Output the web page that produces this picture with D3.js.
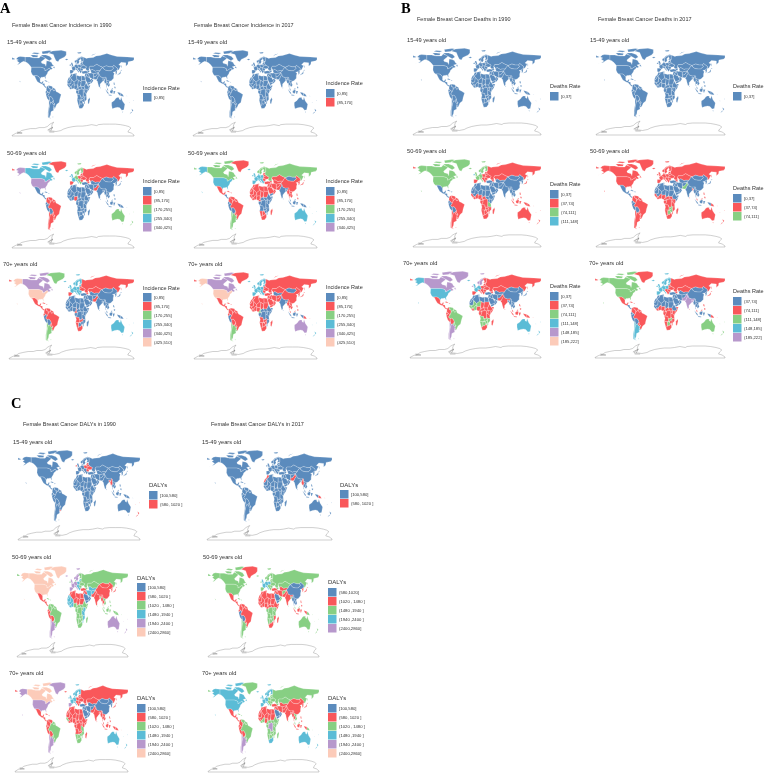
<!DOCTYPE html>
<html>
<head>
<meta charset="utf-8">
<script src="https://cdn.jsdelivr.net/npm/d3@7"></script>
<style>
  html, body { margin: 0; padding: 0; background: #fff; }
  svg { filter: blur(0.25px); }
  text { font-family: "Liberation Sans", Arial, sans-serif; fill: #333; }
  .letter { font-family: "Liberation Serif", serif; font-weight: bold; font-size: 14.5px; fill: #000; }
</style>
</head>
<body>
<svg id="chart" width="765" height="773"></svg>
<script>
// rough country outlines, lon,lat pairs, "|" starts another part
const regionShapes = {
  alaska: "-168,66 -162,70 -156,71 -141,70 -141,60 -135,58 -130,55 -134,58 -146,61 -152,59 -160,55 -165,54 -158,58 -162,60 -166,62 -161,64|-178,52 -172,52.5 -170,53 -175,52",
  canada: "-141,70 -128,70 -115,68 -100,68 -95,72 -85,69 -82,67 -94,60 -92,57 -82,55 -80,51 -79,55 -78,62 -70,61 -64,59 -60,54 -56,52 -66,50 -60,46 -66,44 -67,45 -70,47 -75,45 -79,43 -83,42 -83,46 -89,48 -95,49 -123,49 -130,55 -135,58 -141,60|-125,74 -115,74 -103,73 -105,69.5 -118,69.5|-95,74 -80,74 -68,71 -62,66 -70,62.5 -78,66 -88,70|-92,81 -70,83 -62,82 -75,77 -90,76|-122,77 -105,75.5 -98,78 -115,79|-59,48 -53,47 -56,51",
  usa: "-123,49 -95,49 -89,48 -83,46 -83,42 -79,43 -75,45 -70,47 -67,45 -70,42 -74,40 -76,36 -81,31 -80,25 -82,27 -84,30 -90,29 -94,29 -97,26 -101,30 -106,32 -117,32 -121,35 -124,40|-158,22 -155,20 -155.5,18.5 -157,20",
  greenland: "-73,78 -60,82 -35,83.5 -20,81 -20,74 -25,70 -40,65 -44,60 -50,62 -54,68 -58,75",
  mexico: "-117,32 -106,32 -101,30 -97,26 -97,20 -94,18 -91,19 -90,21 -87,21 -89,16 -92,15 -96,16 -105,20 -109,25 -113,31",
  centam: "-92,15 -89,16 -84,16 -83,11 -78,9 -80,7 -85,10 -88,13",
  cuba: "-85,22 -80,23 -74,20 -78,20|-74,20 -69,19 -71,18",
  colombia: "-78,9 -75,11 -72,12 -72,7 -67,6 -67,1 -70,-4 -75,0 -79,2",
  venezuela: "-72,12 -62,10.5 -60,8 -61,5 -64,4 -67,1 -67,6 -72,7",
  guianas: "-60,8 -52,5 -54,2 -58,1.5 -60,5 -61,5",
  ecuador: "-79,2 -75,0 -76,-3 -80,-4 -81,-1",
  peru: "-80,-4 -76,-3 -75,0 -70,-4 -74,-8 -70,-11 -69,-17 -71,-18 -76,-14 -79,-8",
  bolivia: "-70,-11 -65,-10 -60,-14 -58,-18 -62,-22 -67,-23 -69,-18 -69,-17",
  brazil: "-70,-4 -67,1 -64,4 -60,5 -58,1.5 -54,2 -52,5 -50,0 -44,-2 -35,-6 -39,-15 -41,-22 -48,-26 -53,-34 -57,-30 -54,-25 -58,-22 -58,-18 -60,-14 -65,-10 -70,-11 -74,-8",
  paraguay: "-62,-22 -58,-18 -58,-22 -54,-25 -58,-27",
  uruguay: "-57,-30 -53,-34 -58,-34.5",
  argentina: "-67,-23 -62,-22 -58,-27 -54,-25 -57,-30 -58,-34.5 -57,-38 -65,-41 -66,-47 -69,-52 -65,-55 -71,-52 -72,-45 -71,-35 -69,-28|-61,-51 -58,-51 -59,-52.5",
  chile: "-69,-18 -67,-23 -69,-28 -71,-35 -72,-45 -71,-52 -65,-55 -74,-52 -74,-42 -71,-30 -71,-18",
  iceland: "-24,65 -18,66.5 -14,65 -19,63.5",
  uk: "-5,50 1,51 0,54 -2,58 -6,58 -5,54 -3,53",
  ireland: "-10,52 -6,52 -6,55 -10,54",
  iberia: "-9,37 -6,36 -2,37 0,39 3,42 -2,43.5 -9,43.5",
  france: "-2,43.5 3,42 7,44 7,46 8,49 2,51 -4,48.5",
  germany: "2,51 8,49 7,46 13,46.5 17,48 15,51 14,54 8,54.5 4,52",
  italy: "7,44 7,46 13,46.5 13,44 18,40 16,38 15,40 10,44",
  norway: "5,59 8,58 11,59 12,64 20,69 30,70 25,71 15,68 10,64 5,62|12,79 25,80 22,77 15,77",
  sweden: "11,59 13,55.5 16,56 19,60 17,62 22,66 20,69 12,64",
  finland: "22,60 30,61 30,70 20,69 22,66 25,64",
  denmark: "8,54.5 11,54.5 11,57 8,57",
  poland: "14,54 23,54.5 24,51 24,50 22,48 17,48 15,51",
  baltic: "21,55 23,54.5 28,56 28,59 24,59",
  belarus: "23,54.5 28,56 32,53 24,51",
  ukraine: "24,50 24,51 32,53 40,50 38,47 33,46 30,46 22,48",
  romania: "22,48 30,46 28.5,42 23,42 21,45",
  balkans: "13,46.5 17,48 22,48 21,45 23,42 28.5,42 26,41 24,38 22,37 19,41 14,45",
  turkey: "26,41 30,41 36,42 42,41 44,40 44,37 36,36.5 30,36 27,37",
  russia: "28,59 30,61 30,70 40,67 44,68 60,69 68,72 80,73 100,77 113,74 130,71 160,70 180,69 180,65 177,62 163,60 162,55 156,51 156,58 142,59 135,54 141,52 135,44 131,43 131,47 120,53 117,50 108,50 98,52 88,49 80,51 70,55 61,51 50,51 47,47 48,42 40,43 37,46 38,47 40,50 32,53 28,56|-180,69 -170,66 -175,65 -180,65|142,54 144,50 143,47 142,50|52,71 58,75 68,77 56,73",
  caucasus: "40,43 48,42 49,40 45,39 42,41",
  kazakhstan: "47,47 50,51 61,51 70,55 80,51 87,49 82,45 80,42 70,42 66,41 56,45 52,42 50,46",
  centasia: "52,42 56,45 66,41 70,42 80,42 74,38 67,37 61,36 54,37.5",
  mongolia: "88,49 98,52 108,50 117,50 120,47 112,42 105,42 96,43 90,46",
  china: "80,42 82,45 87,49 90,46 96,43 105,42 112,42 120,47 117,50 120,53 131,47 131,43 128,42 124,40 118,39 122,37 120,32 120,27 113,22 108,21 102,22 98,24 98,28 88,28 80,30 75,37 74,38",
  koreas: "124,40 128,42 130,42 129,36 126,34 126,38",
  japan: "130,32 132,34 137,35 140,36 141,40 140,41 137,37 132,35|140,43 145,44 143,42",
  iran: "44,39 49,37 54,37.5 61,36 61,30 62,25 57,25.5 51,28 48,30 46,34 44,37",
  iraq: "44,37 46,34 48,30 44,29 39,32 41,35",
  syria: "36,36.5 44,37 41,35 39,32 37,29 34.5,31",
  saudi: "35,28 37,29 39,32 44,29 48,29 51,25 55,22 52,19 44,17 42,17 39,21",
  yemen: "42,17 44,17 52,19 52,16 45,13 43,13",
  oman: "51,25 56,26 60,22 55,17 52,16 52,19 55,22",
  afghan: "61,36 67,37 74,38 71,34 66,30 61,30",
  pakistan: "61,30 66,30 71,34 74,38 77,33 74,30 71,25 67,24.5 62,25",
  india: "74,38 78,35 80,30 88,28 96,29 94,24 88,26 89,22 85,19 80,15 80,10 77,8 74,15 72,21 69,23 71,25 74,30 77,33",
  bangladesh: "88,26 92,25 92,21 89,22",
  srilanka: "80,9 82,7 80.5,6",
  myanmar: "94,24 96,29 98,28 98,24 100,20 98,16 98,11 96,17 94,16 92,21",
  thailand: "100,20 102,18 105,15 102,12 99,12 100,7 98,9 98,16",
  indochina: "98,24 102,22 108,21 106,18 109,13 105,9 102,12 105,15 102,18 100,20",
  malaysia: "100,7 103,5 104,1.5 101,3|110,1 118,6 116,7",
  indonesia: "95,5 104,-2 106,-6 101,-3|105,-6 114,-7 114,-8.5 106,-8|109,1 117,4 118,1 116,-4 110,-3|119,1 125,1 122,-5 120,-5|131,-1 141,-3 141,-9 138,-8 133,-4",
  png: "141,-3 147,-6 150,-10 141,-9|157,-8 161,-10 158,-9",
  philippines: "120,18 122,18 124,13 120,14|122,10 126,9 125,6 122,7",
  australia: "114,-22 122,-18 126,-14 130,-12 136,-12 136,-15 140,-17 142,-11 146,-19 153,-26 150,-37 144,-38 138,-33 132,-32 124,-33 116,-35 114,-28|145,-41 148,-41 147,-43",
  nz: "173,-35 178,-38 175,-41|172,-41 174,-42 167,-46|177,-17 179,-18 178,-19|165,-21 167,-22 166,-22.5",
  morocco: "-13,28 -9,30 -6,35.5 -2,35 -1,32 -8,28",
  wsahara: "-17,21 -13,21 -8,27.7 -8,28 -13,28",
  algeria: "-8,28 -1,32 -2,35 8,37 9,33 10,30 12,24 3,19 -5,25",
  tunisia: "8,37 11,37 10,33 9,33",
  libya: "10,33 15,32 20,31 25,32 25,22 24,19.5 16,23 12,24 10,30",
  egypt: "25,32 34,31 37,22 25,22",
  sudan: "25,22 37,22 38,18 36,14 33,10 24,10 23,15 24,19.5",
  mauritania: "-17,21 -13,21 -8,27.7 -5,25 -6,16 -12,15 -16,16",
  mali: "-5,25 3,19 4,15 0,15 -5,10 -8,10 -12,13 -12,15 -6,16",
  niger: "3,19 12,24 16,23 14,13 8,13 3,12 4,15",
  chad: "16,23 24,19.5 23,15 22,11 15,8 14,13",
  nigeria: "3,12 8,13 14,13 13,7 9,4 5,5 3,6.5",
  senegal: "-16,16 -12,15 -12,13 -8,10 -8,7.5 -13,9 -17,13",
  ivory: "-8,10 -5,10 -3,5 -8,4.5 -13,9 -8,7.5",
  ghana: "-5,10 0,15 4,15 3,12 3,6.5 -3,5",
  cameroon: "9,4 13,7 14,13 15,8 16,2 10,2",
  car: "15,8 22,11 27,5 18,4 16,2",
  ssudan: "24,10 33,10 35,5 30,4 27,5 22,11",
  ethiopia: "33,10 36,14 38,18 43,12 48,8 42,4 35,5",
  somalia: "43,12 51,12 47,4 41,-2 42,4 48,8",
  kenya: "35,5 42,4 41,-2 39,-5 34,-1",
  uganda: "30,4 35,5 34,-1 30,-1",
  tanzania: "30,-1 34,-1 39,-5 40,-11 34,-11 30,-8",
  drc: "18,4 27,5 30,4 30,-1 30,-8 30,-12 24,-11 22,-11 22,-7 13,-6 16,-2",
  gabon: "9,1 10,2 16,2 18,4 16,-2 13,-6 9,-2",
  angola: "12,-6 13,-6 22,-7 22,-11 24,-11 24,-17 12,-17 14,-11",
  zambia: "24,-11 30,-12 30,-8 34,-11 33,-14 28,-16 24,-17",
  mozambique: "34,-11 40,-11 40,-16 35,-20 35,-24 32,-26 33,-20 33,-14",
  zimbabwe: "28,-16 33,-14 33,-20 29,-22 26,-18",
  botswana: "24,-17 26,-18 29,-22 25,-26 20,-25 20,-18",
  namibia: "12,-17 24,-17 20,-18 20,-28 16,-28",
  safrica: "16,-28 20,-28 20,-25 25,-26 29,-22 32,-26 32,-29 27,-34 19,-34.5",
  madagascar: "49,-12 50,-16 47,-25 44,-24 44,-17"
};

const antarctica = "-180,-89 -170,-85 -158,-82 -152,-79 -140,-77 -125,-75 -110,-75 -100,-73 -85,-73 -76,-71 -68,-66 -57,-62 -61,-66 -63,-70 -61,-74 -68,-76 -72,-80 -60,-80 -50,-81 -36,-79 -28,-76 -15,-73 0,-71 12,-70 28,-70 40,-69 55,-67 70,-69 75,-67 90,-66 108,-66 125,-66 140,-67 155,-69 165,-71 171,-74 165,-78 162,-82 172,-84 180,-88 180,-90 -180,-90";
const antarcticaInner = "-165,-85 -150,-84 -165,-82|-75,-78 -60,-72 -66,-80|-70,-82 -55,-82";

const incidenceBins = ["[0,85]", "(85,170]", "(170,255]", "(255,340]", "(340,425]", "(425,510]"];
const deathBins = ["[0,37]", "(37,74]", "(74,111]", "(111,148]", "(148,185]", "(185,222]"];
const dalyBins = ["[100,580]", "(580, 1020 ]", "(1020 , 1480 ]", "(1480 ,1940 ]", "(1940 ,2400 ]", "(2400,2860]"];
const dalyBins2017 = ["(580,1020]", "(1020 , 1480 ]", "(1480 ,1940 ]", "(1940 ,2400 ]", "(2400,2860]"];

// class of each region per panel: index = colour class, "*" = everything not listed
const incYoung1990 = ["*"];
const incYoung2017 = ["*"];
const incMid1990 = ["*",
  "greenland brazil colombia venezuela guianas paraguay uruguay argentina chile russia belarus ukraine baltic poland romania kazakhstan caucasus nigeria pakistan iberia",
  "norway sweden finland denmark germany balkans australia nz",
  "canada uk ireland france italy iceland",
  "alaska usa"];
const incMid2017 = ["centam peru bolivia ecuador mongolia india drc gabon car ssudan kenya uganda tanzania zambia angola mozambique zimbabwe ethiopia somalia srilanka bangladesh indonesia malaysia png yemen",
  "*",
  "canada russia chile argentina uruguay norway sweden finland",
  "alaska usa uk ireland france germany italy iberia poland denmark iceland balkans australia nz"];
const incOld1990 = ["*",
  "mexico centam cuba colombia venezuela guianas brazil paraguay ecuador russia kazakhstan belarus ukraine caucasus pakistan namibia safrica angola zambia cameroon iberia",
  "greenland chile argentina uruguay",
  "australia nz uk ireland france germany italy sweden norway denmark finland poland baltic balkans romania iceland",
  "canada",
  "alaska usa"];
const incOld2017 = ["peru mongolia centasia india drc tanzania kenya uganda ethiopia somalia ssudan car gabon mozambique bangladesh indonesia srilanka",
  "*",
  "chile argentina uruguay cameroon",
  "uk ireland france germany iberia poland norway sweden finland denmark italy baltic balkans iceland nz",
  "canada australia",
  "alaska usa"];
const deathYoung1990 = ["*"];
const deathYoung2017 = ["*"];
const deathMid1990 = ["*",
  "brazil colombia venezuela guianas paraguay uruguay argentina chile russia kazakhstan belarus ukraine baltic poland romania balkans caucasus iberia senegal ivory ghana nigeria cameroon gabon drc angola zambia mozambique namibia botswana zimbabwe safrica car madagascar malaysia indonesia philippines png australia nz japan",
  "alaska canada usa greenland uk france germany italy norway sweden finland iceland tanzania",
  "denmark ireland"];
const deathMid2017 = ["mexico centam cuba ecuador peru bolivia morocco wsahara algeria tunisia libya egypt saudi iran iraq syria yemen oman turkey centasia afghan china mongolia koreas japan thailand indochina myanmar india sudan mauritania mali niger chad ethiopia somalia indonesia",
  "*",
  "pakistan zambia botswana zimbabwe"];
const deathOld1990 = ["china mongolia centasia morocco wsahara algeria tunisia libya egypt saudi iran iraq syria yemen oman turkey afghan mauritania koreas japan thailand indochina myanmar bangladesh",
  "*",
  "venezuela brazil guianas paraguay mali ghana senegal niger angola botswana zimbabwe mozambique zambia namibia",
  "alaska usa australia nz uk france germany iceland",
  "canada greenland chile argentina uruguay sweden norway ireland denmark"];
const deathOld2017 = ["china mongolia centasia iran iraq syria saudi yemen oman turkey afghan morocco wsahara algeria tunisia libya egypt mali niger chad sudan mauritania ethiopia senegal bolivia peru ecuador centam koreas thailand indochina myanmar indonesia",
  "*",
  "alaska canada usa nz australia botswana zambia",
  "chile argentina uruguay uk ireland france germany italy iberia norway sweden denmark finland poland baltic iceland",
  "india pakistan bangladesh"];
const dalyYoung1990 = ["*", "ukraine belarus poland romania baltic myanmar bangladesh uruguay nz ireland"];
const dalyYoung2017 = ["*", "pakistan myanmar morocco wsahara png"];
const dalyMid1990 = ["saudi yemen oman",
  "mexico centam ecuador peru bolivia china mongolia india pakistan myanmar thailand koreas morocco algeria tunisia libya egypt sudan chad niger turkey syria iraq japan",
  "*",
  "senegal mauritania wsahara mali ivory ghana centasia iran afghan kenya tanzania mozambique poland balkans baltic",
  "australia chile argentina uruguay uk france germany italy iberia norway sweden nz iceland",
  "alaska canada usa greenland"];
const dalyOld1990 = ["china mongolia centasia saudi iraq iran yemen oman afghan koreas turkey syria",
  "*",
  "brazil guianas paraguay senegal namibia botswana safrica zimbabwe mozambique tanzania",
  "australia nz uk ireland france germany italy norway sweden finland denmark",
  "alaska usa greenland chile argentina uruguay iberia",
  "canada"];
const dalyMid2017 = ["peru bolivia china mongolia saudi yemen thailand indochina myanmar",
  "greenland mexico centam colombia venezuela guianas brazil paraguay ecuador india pakistan centasia iran iraq syria turkey morocco wsahara algeria tunisia libya egypt mauritania mali niger chad sudan ssudan ethiopia somalia nigeria senegal ivory ghana cameroon car safrica mozambique madagascar indonesia philippines koreas japan",
  "*",
  "uk france germany italy poland"];
const dalyOld2017 = ["saudi yemen oman",
  "mexico centam colombia ecuador peru bolivia china mongolia india pakistan bangladesh myanmar centasia afghan turkey iran iraq syria morocco wsahara algeria tunisia libya egypt mauritania mali niger chad sudan nigeria senegal indonesia philippines thailand koreas japan",
  "*",
  "alaska canada usa uk ireland france germany italy iberia norway sweden finland denmark iceland australia nz safrica",
  "chile argentina uruguay drc"];

const classColors = ["#5b8bbd", "#f9575a", "#87cf83", "#5bbcd6", "#b798cc", "#fccbb9"];

const headings = [
  ["Female Breast Cancer Incidence in 1990", 12, 27],
  ["Female Breast Cancer Incidence in 2017", 194, 27],
  ["Female Breast Cancer Deaths in 1990", 417, 21],
  ["Female Breast Cancer Deaths in 2017", 598, 21],
  ["Female Breast Cancer DALYs in 1990", 23, 426],
  ["Female Breast Cancer DALYs in 2017", 211, 426]
];
const letters = [["A", 0, 13], ["B", 401, 13], ["C", 11, 408]];

// layout per panel: map box [x0, x1, y0, y1], age label pos, legend x/title y/first key y
const panels = [
  { cl: incYoung1990, age: "15-49 years old", ax: 7, ay: 44, box: [12, 134, 50, 136], title: "Incidence Rate", bins: incidenceBins, n: 1, lx: 143, ly: 90, ky: 93 },
  { cl: incMid1990, age: "50-69 years old", ax: 7, ay: 155, box: [12, 134, 161, 248], title: "Incidence Rate", bins: incidenceBins, n: 5, lx: 143, ly: 183, ky: 187 },
  { cl: incOld1990, age: "70+ years old", ax: 3, ay: 266, box: [9, 134, 272, 359], title: "Incidence Rate", bins: incidenceBins, n: 6, lx: 143, ly: 290, ky: 293 },
  { cl: incYoung2017, age: "15-49 years old", ax: 188, ay: 44, box: [193, 317, 50, 136], title: "Incidence Rate", bins: incidenceBins, n: 2, lx: 326, ly: 85, ky: 89 },
  { cl: incMid2017, age: "50-69 years old", ax: 188, ay: 155, box: [194, 317, 160, 248], title: "Incidence Rate", bins: incidenceBins, n: 5, lx: 326, ly: 183, ky: 187 },
  { cl: incOld2017, age: "70+ years old", ax: 188, ay: 266, box: [194, 317, 272, 359], title: "Incidence Rate", bins: incidenceBins, n: 6, lx: 326, ly: 289, ky: 293 },
  { cl: deathYoung1990, age: "15-49 years old", ax: 407, ay: 42, box: [413, 541, 48, 135], title: "Deaths Rate", bins: deathBins, n: 1, lx: 550, ly: 88, ky: 92 },
  { cl: deathMid1990, age: "50-69 years old", ax: 407, ay: 153, box: [413, 541, 159, 247], title: "Deaths Rate", bins: deathBins, n: 4, lx: 550, ly: 186, ky: 190 },
  { cl: deathOld1990, age: "70+ years old", ax: 403, ay: 265, box: [410, 541, 271, 358], title: "Deaths Rate", bins: deathBins, n: 6, lx: 550, ly: 288, ky: 292 },
  { cl: deathYoung2017, age: "15-49 years old", ax: 590, ay: 42, box: [596, 725, 48, 135], title: "Deaths Rate", bins: deathBins, n: 1, lx: 733, ly: 88, ky: 92 },
  { cl: deathMid2017, age: "50-69 years old", ax: 590, ay: 153, box: [596, 725, 159, 247], title: "Deaths Rate", bins: deathBins, n: 3, lx: 733, ly: 190, ky: 194 },
  { cl: deathOld2017, age: "70+ years old", ax: 589, ay: 265, box: [595, 725, 271, 358], title: "Deaths Rate", bins: deathBins.slice(1), n: 5, lx: 733, ly: 293, ky: 297 },
  { cl: dalyYoung1990, age: "15-49 years old", ax: 13, ay: 444, box: [18, 140, 450, 540], title: "DALYs", bins: dalyBins, n: 2, lx: 149, ly: 487, ky: 491 },
  { cl: dalyMid1990, age: "50-69 years old", ax: 12, ay: 559, box: [17, 128, 566, 657], title: "DALYs", bins: dalyBins, n: 6, lx: 137, ly: 580, ky: 583 },
  { cl: dalyOld1990, age: "70+ years old", ax: 9, ay: 675, box: [15, 128, 682, 772], title: "DALYs", bins: dalyBins, n: 6, lx: 137, ly: 700, ky: 704 },
  { cl: dalyYoung2017, age: "15-49 years old", ax: 202, ay: 444, box: [207, 332, 450, 540], title: "DALYs", bins: dalyBins, n: 2, lx: 340, ly: 487, ky: 490 },
  { cl: dalyMid2017, age: "50-69 years old", ax: 203, ay: 559, box: [208, 319, 566, 657], title: "DALYs", bins: dalyBins2017, n: 5, lx: 328, ly: 584, ky: 588 },
  { cl: dalyOld2017, age: "70+ years old", ax: 202, ay: 675, box: [208, 319, 682, 772], title: "DALYs", bins: dalyBins, n: 6, lx: 328, ly: 700, ky: 704 }
];

const svg = d3.select("#chart");

function parseRings(s) {
  return s.split("|").map((part) => part.trim().split(" ").map((p) => p.split(",").map(Number)));
}

function polygon(s) {
  return {
    type: "MultiPolygon",
    coordinates: parseRings(s).map((ring) => [ring.concat([ring[0]])])
  };
}

const regions = Object.keys(regionShapes).map((id) => ({ id: id, geo: polygon(regionShapes[id]) }));

function classLookup(list) {
  const m = new Map();
  let rest = 0;
  list.forEach((names, i) => {
    if (names === "*") rest = i;
    else names.split(" ").forEach((n) => m.set(n, i));
  });
  return (id) => (m.has(id) ? m.get(id) : rest);
}

panels.forEach(function (p) {
  const x = d3.scaleLinear().domain([-180, 180]).range([p.box[0], p.box[1]]);
  const y = d3.scaleLinear().domain([84, -90]).range([p.box[2], p.box[3]]);
  const path = d3.geoPath(d3.geoTransform({
    point: function (lon, lat) { this.stream.point(x(lon), y(lat)); }
  }));
  const cls = classLookup(p.cl);
  const g = svg.append("g");

  g.selectAll("path.region")
    .data(regions)
    .enter()
    .append("path")
    .attr("class", "region")
    .attr("d", (d) => path(d.geo))
    .attr("fill", (d) => classColors[cls(d.id)])
    .attr("stroke", "#fff")
    .attr("stroke-width", 0.22);

  g.append("path")
    .attr("d", path(polygon(antarctica)))
    .attr("fill", "#fff")
    .attr("stroke", "#777")
    .attr("stroke-width", 0.35);

  g.append("path")
    .attr("d", path({ type: "MultiLineString", coordinates: parseRings(antarcticaInner) }))
    .attr("fill", "none")
    .attr("stroke", "#555")
    .attr("stroke-width", 0.35);

  g.append("text")
    .attr("x", p.ax)
    .attr("y", p.ay)
    .attr("font-size", 5.7)
    .text(p.age);

  const legend = g.append("g");
  legend.append("text")
    .attr("x", p.lx)
    .attr("y", p.ly)
    .attr("font-size", p.title === "DALYs" ? 6 : 5.5)
    .text(p.title);

  const keys = p.bins.slice(0, p.n);
  const ky = d3.scaleBand().domain(d3.range(keys.length)).range([p.ky, p.ky + 9 * keys.length]);

  legend.selectAll("rect")
    .data(keys)
    .enter()
    .append("rect")
    .attr("x", p.lx)
    .attr("y", (d, i) => ky(i))
    .attr("width", 8.5)
    .attr("height", 8.5)
    .attr("fill", (d, i) => classColors[i]);

  legend.selectAll("text.key")
    .data(keys)
    .enter()
    .append("text")
    .attr("class", "key")
    .attr("x", p.lx + 11)
    .attr("y", (d, i) => ky(i) + 6)
    .attr("font-size", 4.2)
    .text((d) => d);
});

svg.selectAll("text.heading")
  .data(headings)
  .enter()
  .append("text")
  .attr("class", "heading")
  .attr("x", (d) => d[1])
  .attr("y", (d) => d[2])
  .attr("font-size", 5.5)
  .text((d) => d[0]);

svg.selectAll("text.letter")
  .data(letters)
  .enter()
  .append("text")
  .attr("class", "letter")
  .attr("x", (d) => d[1])
  .attr("y", (d) => d[2])
  .text((d) => d[0]);
</script>
</body>
</html>
